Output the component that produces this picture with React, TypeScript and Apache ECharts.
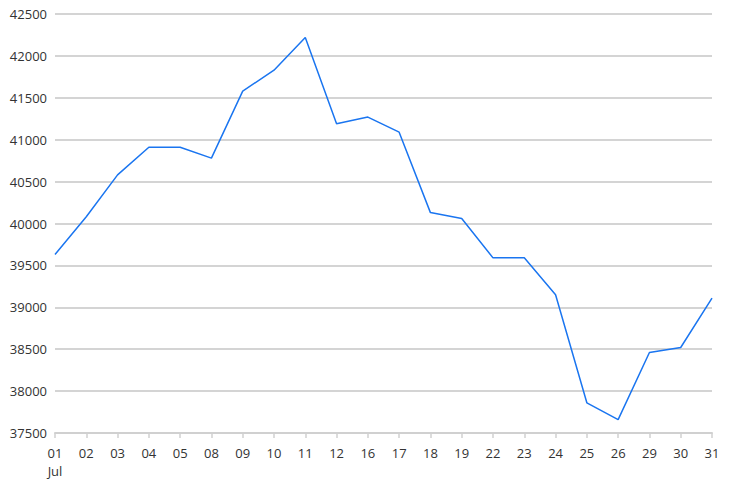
import { useEffect, useRef } from "react";
import * as echarts from "echarts";

const days = ["01", "02", "03", "04", "05", "08", "09", "10", "11", "12", "16", "17", "18", "19", "22", "23", "24", "25", "26", "29", "30", "31"];
const prices = [39630, 40080, 40580, 40910, 40910, 40780, 41580, 41830, 42220, 41190, 41270, 41090, 40130, 40060, 39590, 39590, 39150, 37860, 37660, 38460, 38520, 39110];
const monthLabel = "Jul";

export default function App() {
  const chartRef = useRef<HTMLDivElement>(null);

  useEffect(() => {
    document.body.style.margin = "0";
    if (!chartRef.current) return;

    const chart = echarts.init(chartRef.current, null, { renderer: "svg" });

    chart.setOption({
      animation: false,
      grid: { left: 55, right: 20, top: 14, bottom: 56 },
      tooltip: { show: false },
      xAxis: {
        type: "category",
        data: days,
        boundaryGap: false,
        axisLine: { lineStyle: { color: "#d0d0d0", width: 2 } },
        axisTick: { alignWithLabel: true, length: 5, lineStyle: { color: "#d0d0d0", width: 1.5 } },
        axisLabel: {
          interval: 0,
          margin: 11,
          color: "#333",
          fontFamily: "Open Sans",
          fontSize: 13,
          lineHeight: 18,
          // first tick carries the month underneath
          formatter: (v: string, i: number) => (i === 0 ? v + "\n" + monthLabel : v),
        },
        splitLine: { show: false },
      },
      yAxis: {
        type: "value",
        min: 37500,
        max: 42500,
        interval: 500,
        axisLine: { show: false },
        axisTick: { show: false },
        axisLabel: {
          color: "#333",
          fontFamily: "Open Sans",
          fontSize: 13,
          margin: 8,
          formatter: (v: number) => String(v),
        },
        splitLine: { lineStyle: { color: "#d4d4d4", width: 2 } },
      },
      series: [
        {
          type: "line",
          data: prices,
          symbol: "none",
          lineStyle: { color: "#1a75f0", width: 1.5 },
        },
      ],
    });

    return () => {
      chart.dispose();
    };
  }, []);

  return <div ref={chartRef} style={{ width: "732px", height: "489px" }} />;
}
